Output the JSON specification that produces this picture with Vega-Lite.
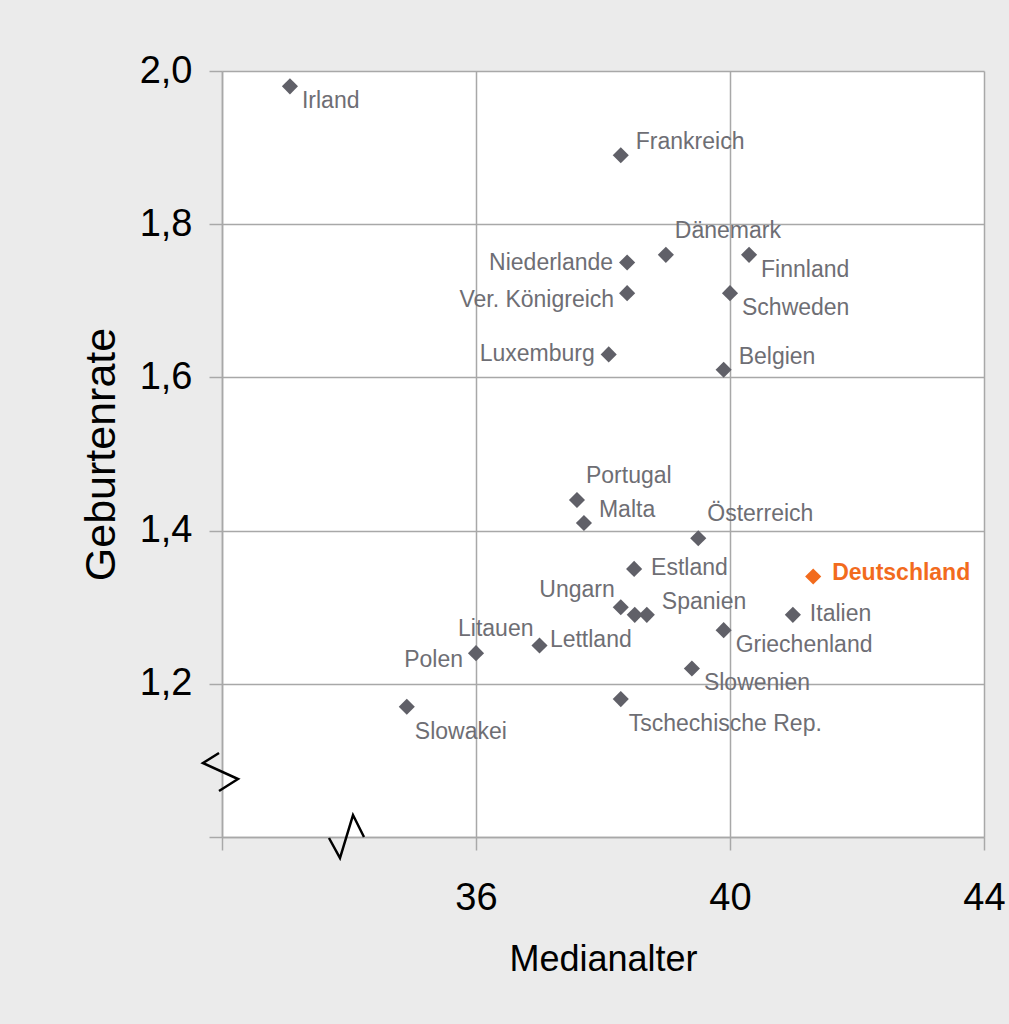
{
  "$schema": "https://vega.github.io/schema/vega-lite/v6.json",
  "width": 762,
  "height": 766,
  "autosize": {"type": "none"},
  "padding": {"left": 222, "top": 71, "right": 25, "bottom": 187},
  "background": "#ebebeb",
  "config": {
    "view": {"stroke": null, "fill": "white"},
    "font": "Liberation Sans",
    "text": {"font": "Liberation Sans", "fontSize": 23, "color": "#6e6e74", "baseline": "middle"}
  },
  "datasets": {
    "laender": [
      {"land": "Irland", "alter": 33.07, "rate": 1.98, "pos": "rd"},
      {"land": "Frankreich", "alter": 38.28, "rate": 1.89, "pos": "ru"},
      {"land": "Dänemark", "alter": 38.99, "rate": 1.76, "pos": "uu"},
      {"land": "Niederlande", "alter": 38.38, "rate": 1.75, "pos": "l"},
      {"land": "Finnland", "alter": 40.3, "rate": 1.76, "pos": "rd"},
      {"land": "Ver. Königreich", "alter": 38.38, "rate": 1.71, "pos": "ld"},
      {"land": "Schweden", "alter": 40.0, "rate": 1.71, "pos": "rd"},
      {"land": "Luxemburg", "alter": 38.09, "rate": 1.63, "pos": "l"},
      {"land": "Belgien", "alter": 39.9, "rate": 1.61, "pos": "ru"},
      {"land": "Portugal", "alter": 37.59, "rate": 1.44, "pos": "uu"},
      {"land": "Malta", "alter": 37.7, "rate": 1.41, "pos": "ru"},
      {"land": "Österreich", "alter": 39.5, "rate": 1.39, "pos": "uu"},
      {"land": "Estland", "alter": 38.49, "rate": 1.35, "pos": "r"},
      {"land": "Deutschland", "alter": 41.31, "rate": 1.34, "pos": "de"},
      {"land": "Ungarn", "alter": 38.28, "rate": 1.30, "pos": "lu"},
      {"land": "Lettland", "alter": 38.5, "rate": 1.29, "pos": "ldd"},
      {"land": "Spanien", "alter": 38.69, "rate": 1.29, "pos": "ru"},
      {"land": "Italien", "alter": 40.99, "rate": 1.29, "pos": "r"},
      {"land": "Griechenland", "alter": 39.9, "rate": 1.27, "pos": "rd"},
      {"land": "Litauen", "alter": 37.0, "rate": 1.25, "pos": "lu"},
      {"land": "Polen", "alter": 36.0, "rate": 1.24, "pos": "ld"},
      {"land": "Slowenien", "alter": 39.4, "rate": 1.22, "pos": "rd"},
      {"land": "Tschechische Rep.", "alter": 38.28, "rate": 1.18, "pos": "rdd"},
      {"land": "Slowakei", "alter": 34.91, "rate": 1.17, "pos": "rdd"}
    ],
    "bruch": [
      {"g": "y", "o": 1, "alter": 31.953, "rate": 1.1097},
      {"g": "y", "o": 2, "alter": 31.70, "rate": 1.0966},
      {"g": "y", "o": 3, "alter": 32.252, "rate": 1.0757},
      {"g": "y", "o": 4, "alter": 31.953, "rate": 1.060},
      {"g": "x", "o": 1, "alter": 33.685, "rate": 0.9987},
      {"g": "x", "o": 2, "alter": 33.858, "rate": 0.9726},
      {"g": "x", "o": 3, "alter": 34.063, "rate": 1.0287},
      {"g": "x", "o": 4, "alter": 34.236, "rate": 1.0}
    ]
  },
  "data": {"name": "laender"},
  "layer": [
    {
      "mark": {"type": "point", "shape": "diamond", "filled": true, "size": 260, "opacity": 1},
      "encoding": {
        "x": {
          "field": "alter", "type": "quantitative",
          "scale": {"domain": [32, 44], "nice": false, "zero": false},
          "axis": {
            "values": [32, 36, 40, 44],
            "labelExpr": "datum.value == 32 ? '' : format(datum.value, 'd')",
            "labelFlush": false,
            "title": "Medianalter",
            "grid": true, "gridColor": "#a8a8a8", "gridWidth": 1.5,
            "domainColor": "#a8a8a8", "domainWidth": 1.5,
            "tickColor": "#a8a8a8", "tickWidth": 1.5, "tickSize": 13,
            "labelFontSize": 38, "labelColor": "black", "labelPadding": 29, "labelFont": "Liberation Sans",
            "titleFontSize": 36, "titleFont": "Liberation Sans", "titleFontWeight": "normal", "titleColor": "black", "titlePadding": 25
          }
        },
        "y": {
          "field": "rate", "type": "quantitative",
          "scale": {"domain": [1.0, 2.0], "nice": false, "zero": false},
          "axis": {
            "values": [1.0, 1.2, 1.4, 1.6, 1.8, 2.0],
            "labelExpr": "datum.value < 1.05 ? '' : replace(format(datum.value, '.1f'), '.', ',')",
            "labelFlush": false,
            "title": "Geburtenrate",
            "grid": true, "gridColor": "#a8a8a8", "gridWidth": 1.5,
            "domainColor": "#a8a8a8", "domainWidth": 1.5,
            "tickColor": "#a8a8a8", "tickWidth": 1.5, "tickSize": 13,
            "labelFontSize": 38, "labelColor": "black", "labelPadding": 17, "labelFont": "Liberation Sans",
            "titleFontSize": 43, "titleFont": "Liberation Sans", "titleFontWeight": "normal", "titleColor": "black", "titlePadding": 16
          }
        },
        "color": {
          "condition": {"test": "datum.land === 'Deutschland'", "value": "#f26b1d"},
          "value": "#606068"
        }
      }
    },
    {
      "transform": [{"filter": "datum.pos === 'r'"}],
      "mark": {"type": "text", "align": "left", "dx": 17, "dy": -1},
      "encoding": {"x": {"field": "alter", "type": "quantitative"}, "y": {"field": "rate", "type": "quantitative"}, "text": {"field": "land"}}
    },
    {
      "transform": [{"filter": "datum.pos === 'l'"}],
      "mark": {"type": "text", "align": "right", "dx": -14, "dy": 0},
      "encoding": {"x": {"field": "alter", "type": "quantitative"}, "y": {"field": "rate", "type": "quantitative"}, "text": {"field": "land"}}
    },
    {
      "transform": [{"filter": "datum.pos === 'ru'"}],
      "mark": {"type": "text", "align": "left", "dx": 15, "dy": -13},
      "encoding": {"x": {"field": "alter", "type": "quantitative"}, "y": {"field": "rate", "type": "quantitative"}, "text": {"field": "land"}}
    },
    {
      "transform": [{"filter": "datum.pos === 'rd'"}],
      "mark": {"type": "text", "align": "left", "dx": 12, "dy": 15},
      "encoding": {"x": {"field": "alter", "type": "quantitative"}, "y": {"field": "rate", "type": "quantitative"}, "text": {"field": "land"}}
    },
    {
      "transform": [{"filter": "datum.pos === 'rdd'"}],
      "mark": {"type": "text", "align": "left", "dx": 8, "dy": 25},
      "encoding": {"x": {"field": "alter", "type": "quantitative"}, "y": {"field": "rate", "type": "quantitative"}, "text": {"field": "land"}}
    },
    {
      "transform": [{"filter": "datum.pos === 'uu'"}],
      "mark": {"type": "text", "align": "left", "dx": 9, "dy": -24},
      "encoding": {"x": {"field": "alter", "type": "quantitative"}, "y": {"field": "rate", "type": "quantitative"}, "text": {"field": "land"}}
    },
    {
      "transform": [{"filter": "datum.pos === 'lu'"}],
      "mark": {"type": "text", "align": "right", "dx": -6, "dy": -17},
      "encoding": {"x": {"field": "alter", "type": "quantitative"}, "y": {"field": "rate", "type": "quantitative"}, "text": {"field": "land"}}
    },
    {
      "transform": [{"filter": "datum.pos === 'ld'"}],
      "mark": {"type": "text", "align": "right", "dx": -13, "dy": 7},
      "encoding": {"x": {"field": "alter", "type": "quantitative"}, "y": {"field": "rate", "type": "quantitative"}, "text": {"field": "land"}}
    },
    {
      "transform": [{"filter": "datum.pos === 'ldd'"}],
      "mark": {"type": "text", "align": "right", "dx": -3, "dy": 25},
      "encoding": {"x": {"field": "alter", "type": "quantitative"}, "y": {"field": "rate", "type": "quantitative"}, "text": {"field": "land"}}
    },
    {
      "transform": [{"filter": "datum.pos === 'de'"}],
      "mark": {"type": "text", "align": "left", "dx": 19, "dy": -4, "fontWeight": "bold", "color": "#f26b1d"},
      "encoding": {"x": {"field": "alter", "type": "quantitative"}, "y": {"field": "rate", "type": "quantitative"}, "text": {"field": "land"}}
    },
    {
      "data": {"name": "bruch"},
      "mark": {"type": "line", "color": "black", "strokeWidth": 2.5, "clip": false},
      "encoding": {
        "x": {"field": "alter", "type": "quantitative"},
        "y": {"field": "rate", "type": "quantitative"},
        "detail": {"field": "g"},
        "order": {"field": "o", "type": "quantitative"}
      }
    }
  ]
}
